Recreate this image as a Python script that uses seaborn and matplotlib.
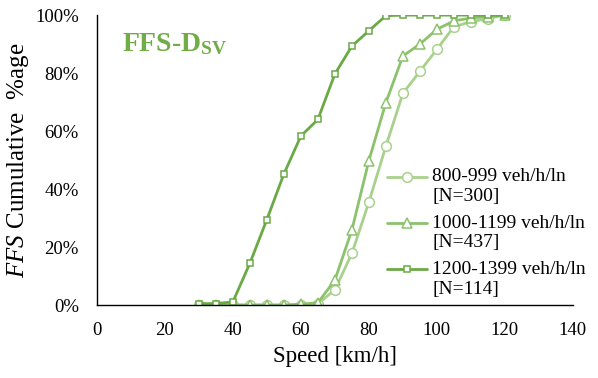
import matplotlib
matplotlib.use("Agg")
import matplotlib.pyplot as plt
import matplotlib.transforms as mtransforms
from matplotlib.lines import Line2D
from matplotlib.legend_handler import HandlerLine2D
import seaborn as sns
import pandas as pd

speed = [30, 35, 40, 45, 50, 55, 60, 65, 70, 75, 80, 85, 90, 95, 100, 105, 110, 115, 120]
cum_800 = [0, 0, 0, 0, 0, 0, 0, 0.5, 5.2, 17.8, 35.5, 54.8, 73.0, 80.6, 88.2, 96.0, 97.7, 98.8, 100]
cum_1000 = [0, 0, 0, 0, 0, 0, 0.3, 0.8, 8.6, 25.9, 49.8, 69.8, 85.9, 90.0, 95.1, 98.0, 99.0, 99.5, 100]
cum_1200 = [0.5, 0.5, 1.1, 14.4, 29.5, 45.2, 58.3, 64.0, 79.7, 89.3, 94.6, 99.8, 100, 100, 100, 100, 100, 100, 100]
labels = ["800-999 veh/h/ln\n[N=300]", "1000-1199 veh/h/ln\n[N=437]", "1200-1399 veh/h/ln\n[N=114]"]
x_ticks = [0, 20, 40, 60, 80, 100, 120, 140]
y_ticks = [0, 20, 40, 60, 80, 100]

sns.set_style("white")
plt.rcParams['font.family'] = ['Liberation Serif', 'DejaVu Serif']
plt.rcParams['text.color'] = 'black'
plt.rcParams['axes.labelcolor'] = 'black'
plt.rcParams['mathtext.fontset'] = 'custom'
plt.rcParams['mathtext.rm'] = 'Liberation Serif'
plt.rcParams['mathtext.it'] = 'Liberation Serif:italic'
plt.rcParams['mathtext.bf'] = 'Liberation Serif:bold'

fig = plt.figure(figsize=(5.98, 3.78), dpi=100)
ax = fig.add_axes([0.162, 0.193, 0.796, 0.767])

colors = ['#a9d18e', '#8cc26c', '#6aaa45']
markers = ['o', '^', 's']
msizes = [7, 7, 5]
series = [cum_800, cum_1000, cum_1200]
for vals, lab, c, m, ms in zip(series, labels, colors, markers, msizes):
    df = pd.DataFrame({'speed': speed, 'cum': vals})
    sns.lineplot(data=df, x='speed', y='cum', ax=ax, color=c, marker=m,
                 markersize=ms, markerfacecolor='white', markeredgecolor=c,
                 markeredgewidth=1.1, linewidth=2.0, label=lab)

ax.set_xlim(0, 140)
ax.set_ylim(0, 100)
ax.set_xticks(x_ticks)
ax.set_yticks(y_ticks)
ax.set_yticklabels([f"{v}%" for v in y_ticks])
for s in ['top', 'right']:
    ax.spines[s].set_visible(False)
for s in ['left', 'bottom']:
    ax.spines[s].set_color('black')
    ax.spines[s].set_linewidth(1.0)
ax.tick_params(axis='both', direction='in', length=4, width=1, colors='black', labelsize=13.5)
ax.tick_params(axis='x', pad=12)
ax.tick_params(axis='y', pad=13)
ax.grid(False)

ax.set_xlabel("Speed [km/h]", fontsize=16.5, labelpad=5, color='black')
ax.set_ylabel(r"$\mathit{FFS}$ Cumulative  %age", fontsize=18, labelpad=3, color='black')

ax.text(0.052, 0.945, r"FFS-D$_{\mathbf{SV}}$", transform=ax.transAxes, fontsize=20,
        fontweight='bold', color='#70ad47', va='top', ha='left')


class TopLineHandler(HandlerLine2D):
    def create_artists(self, legend, orig_handle, xdescent, ydescent, width, height,
                       fontsize, trans):
        artists = super().create_artists(legend, orig_handle, xdescent, ydescent,
                                         width, height, fontsize, trans)
        shift = mtransforms.Affine2D().translate(0, 7.0)
        for a in artists:
            a.set_transform(shift + trans)
        return artists


handles, labs = ax.get_legend_handles_labels()
leg = ax.legend(handles, labs, loc='lower right', bbox_to_anchor=(1.052, -0.015),
                frameon=False, fontsize=14, handlelength=2.1, handletextpad=0.25,
                labelspacing=0.5, borderaxespad=0.2,
                handler_map={Line2D: TopLineHandler()})
for t in leg.get_texts():
    t.set_color('black')

fig.savefig("out.png", dpi=100)
